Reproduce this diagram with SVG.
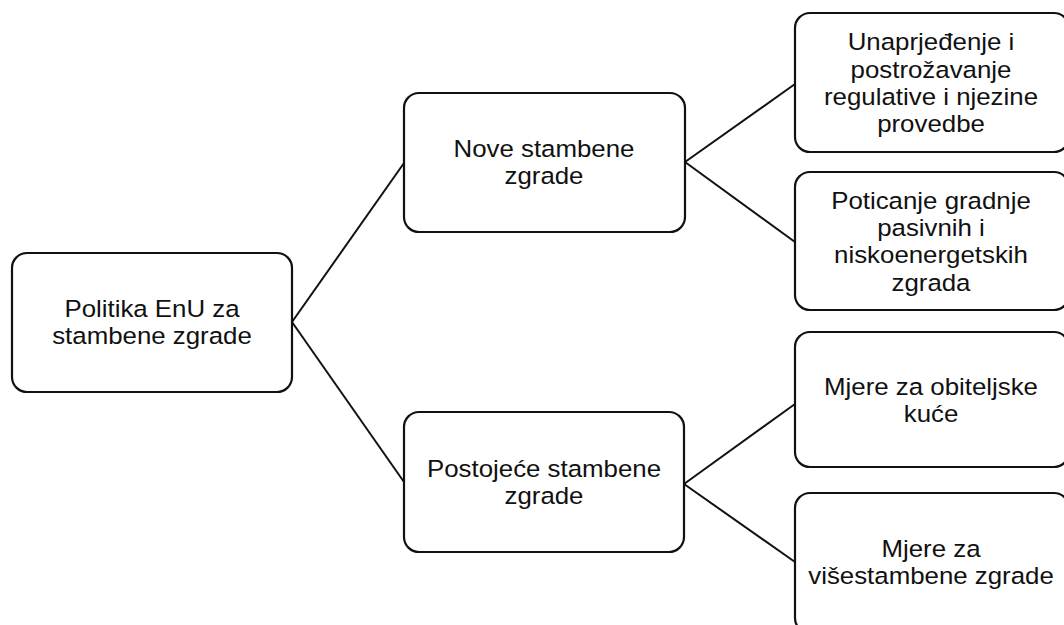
<svg xmlns="http://www.w3.org/2000/svg" width="1064" height="625" viewBox="0 0 1064 625">
<style>
.box{fill:#fff;stroke:#111;stroke-width:2.2}
.lbl{font-family:"Liberation Sans",Arial,sans-serif;font-size:23.5px;fill:#111;text-anchor:middle}
.edge{stroke:#111;stroke-width:2;fill:none}
</style>
<rect width="1064" height="625" fill="#fff"/>
<g id="connectors">
<line class="edge" x1="292" y1="322" x2="404" y2="163"/>
<line class="edge" x1="292" y1="322" x2="404" y2="482"/>
<line class="edge" x1="685" y1="162" x2="795" y2="84"/>
<line class="edge" x1="685" y1="162" x2="795" y2="242"/>
<line class="edge" x1="684" y1="484" x2="795" y2="404"/>
<line class="edge" x1="684" y1="484" x2="795" y2="562"/>
</g>
<g id="root">
<rect class="box" x="12" y="253" width="280" height="139" rx="15"/>
<g transform="translate(152,322.5) scale(1.1,1)">
<text class="lbl" x="0" y="-5.5">Politika EnU za</text>
<text class="lbl" x="0" y="22">stambene zgrade</text>
</g>
</g>
<g id="nove">
<rect class="box" x="404" y="93" width="281" height="139" rx="15"/>
<g transform="translate(544,162.5) scale(1.1,1)">
<text class="lbl" x="0" y="-5.5">Nove stambene</text>
<text class="lbl" x="0" y="22">zgrade</text>
</g>
</g>
<g id="postojece">
<rect class="box" x="404" y="412" width="280" height="140" rx="15"/>
<g transform="translate(544,482) scale(1.1,1)">
<text class="lbl" x="0" y="-5.5">Postojeće stambene</text>
<text class="lbl" x="0" y="22">zgrade</text>
</g>
</g>
<g id="regulativa">
<rect class="box" x="795" y="13" width="274" height="139" rx="15"/>
<g transform="translate(931,82.5) scale(1.1,1)">
<text class="lbl" x="0" y="-32.5">Unaprjeđenje i</text>
<text class="lbl" x="0" y="-5">postrožavanje</text>
<text class="lbl" x="0" y="22.5">regulative i njezine</text>
<text class="lbl" x="0" y="50">provedbe</text>
</g>
</g>
<g id="pasivne">
<rect class="box" x="795" y="172" width="274" height="138" rx="15"/>
<g transform="translate(931,241) scale(1.1,1)">
<text class="lbl" x="0" y="-32.5">Poticanje gradnje</text>
<text class="lbl" x="0" y="-5">pasivnih i</text>
<text class="lbl" x="0" y="22.5">niskoenergetskih</text>
<text class="lbl" x="0" y="50">zgrada</text>
</g>
</g>
<g id="obiteljske">
<rect class="box" x="795" y="332" width="274" height="135" rx="15"/>
<g transform="translate(931,400) scale(1.1,1)">
<text class="lbl" x="0" y="-5.5">Mjere za obiteljske</text>
<text class="lbl" x="0" y="22">kuće</text>
</g>
</g>
<g id="visestambene">
<rect class="box" x="795" y="493" width="274" height="140" rx="15"/>
<g transform="translate(931,562) scale(1.1,1)">
<text class="lbl" x="0" y="-5.5">Mjere za</text>
<text class="lbl" x="0" y="22">višestambene zgrade</text>
</g>
</g>
</svg>
